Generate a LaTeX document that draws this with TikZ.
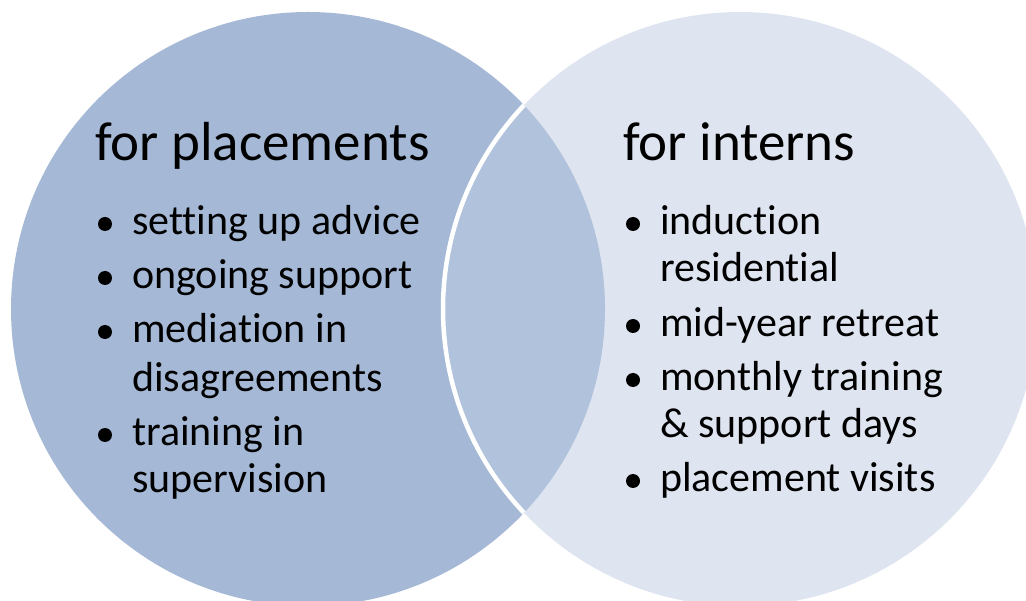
\documentclass[tikz,border=0pt]{standalone}
\usepackage{fontspec}
\setmainfont{Carlito}[Ligatures=NoCommon, RawFeature=-liga]
\begin{document}
\begin{tikzpicture}[x=1pt,y=-1pt,
  head/.style={anchor=base west, inner sep=0pt, font=\fontsize{55}{66}\selectfont},
  item/.style={anchor=base west, inner sep=0pt, font=\fontsize{42}{49}\selectfont},
  bul/.style={circle, fill=black, minimum size=14pt, inner sep=0pt}]
\definecolor{placeblue}{RGB}{165,185,214}
\definecolor{internblue}{RGB}{223,229,240}
\definecolor{overlapblue}{RGB}{177,194,220}
\useasboundingbox (0,0) rectangle (1026,601);
\clip (0,0) rectangle (1026,601);
% the two sets
\fill[placeblue] (308,309) circle[radius=297];
\fill[internblue] (740,309) circle[radius=297];
\begin{scope}
  \clip (308,309) circle[radius=297];
  \fill[overlapblue] (740,309) circle[radius=297];
  \draw[white, line width=4.5pt] (740,309) circle[radius=297];
\end{scope}
% left set: for placements
\node[head] (lh) at (95,161) {for placements};
\node[bul] (lb1) at (105,224) {};
\node[item] (l1) at (132,235) {setting up advice};
\node[bul] (lb2) at (105,278) {};
\node[item] (l2) at (132,289) {ongoing support};
\node[bul] (lb3) at (105,332) {};
\node[item] (l3a) at (132,343) {mediation in};
\node[item] (l3b) at (132,392) {disagreements};
\node[bul] (lb4) at (105,435) {};
\node[item] (l4a) at (132,446) {training in};
\node[item] (l4b) at (132,493) {supervision};
% right set: for interns
\node[head] (rh) at (623,161) {for interns};
\node[bul] (rb1) at (633,224) {};
\node[item] (r1a) at (660,235) {induction};
\node[item] (r1b) at (660,282) {residential};
\node[bul] (rb2) at (633,326) {};
\node[item] (r2) at (660,337) {mid-year retreat};
\node[bul] (rb3) at (633,380) {};
\node[item] (r3a) at (660,391) {monthly training};
\node[item] (r3b) at (660,438) {\& support days};
\node[bul] (rb4) at (633,481) {};
\node[item] (r4) at (660,492) {placement visits};
\end{tikzpicture}
\end{document}
